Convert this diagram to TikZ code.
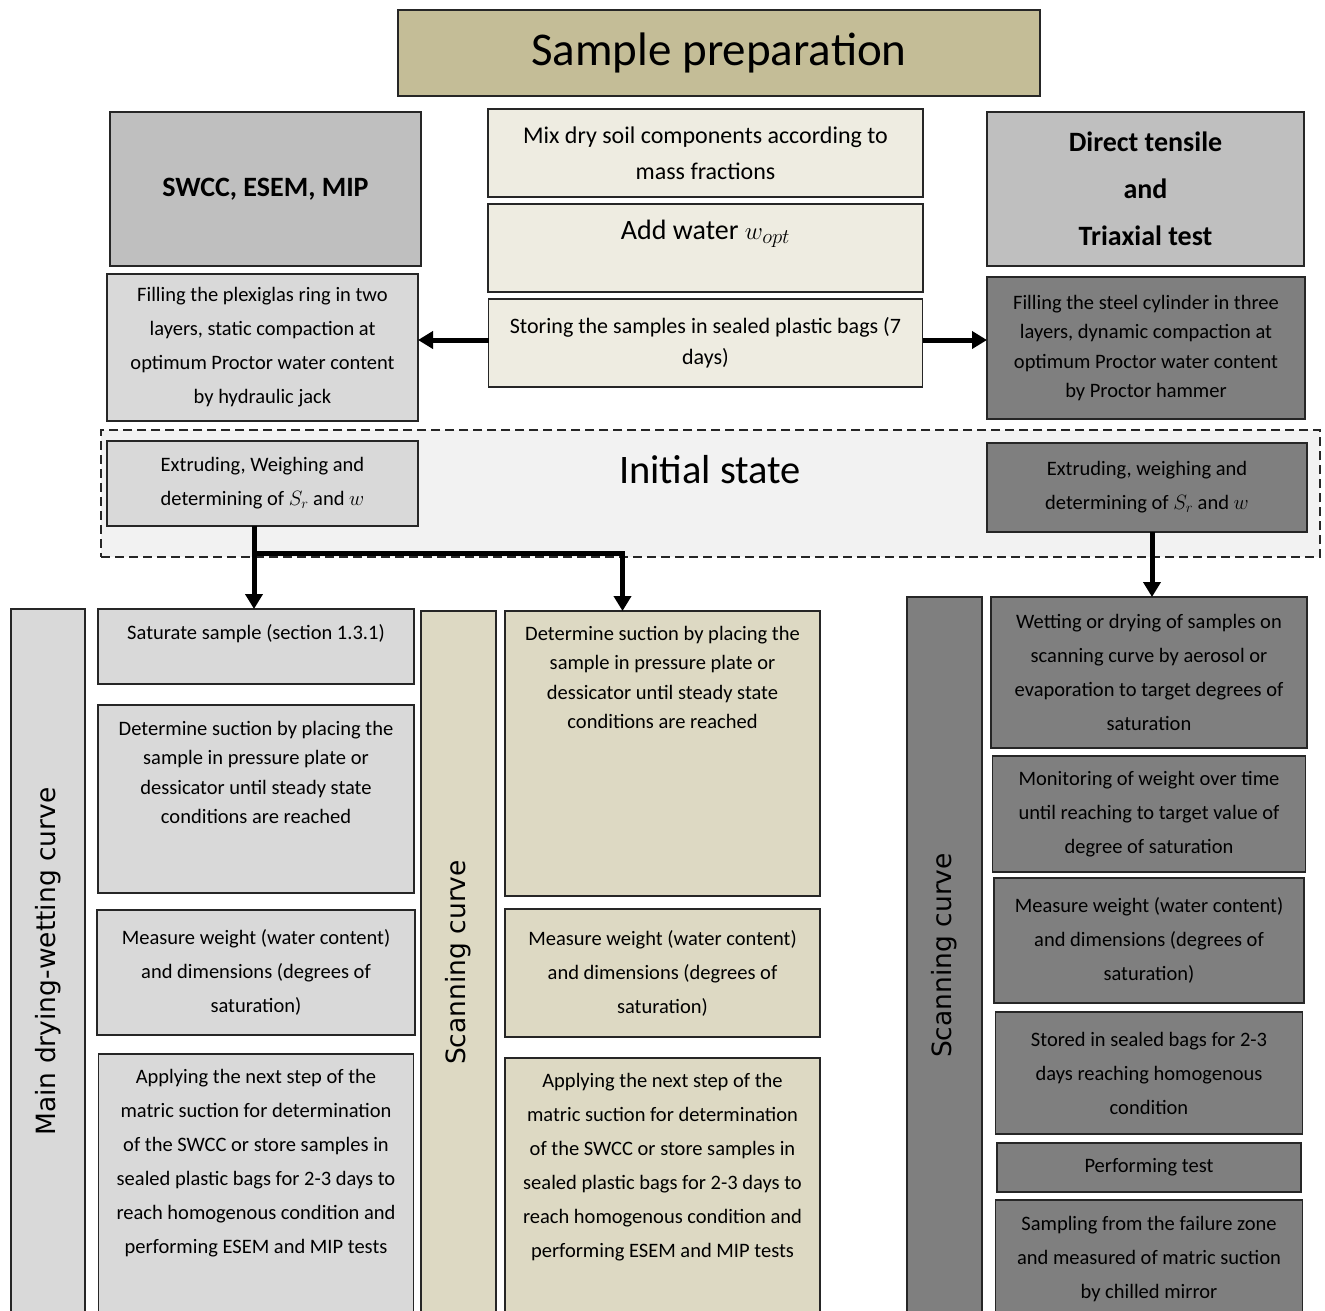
\documentclass[tikz,border=0pt]{standalone}
\usepackage{fontspec}
\setmainfont{Carlito}
\newfontfamily\sidefont{DejaVu Sans}
\usetikzlibrary{positioning,arrows.meta}

\definecolor{titletan}{HTML}{C4BD97}
\definecolor{headgrey}{HTML}{BFBFBF}
\definecolor{creamfill}{HTML}{EEECE1}
\definecolor{lgrey}{HTML}{D9D9D9}
\definecolor{dgrey}{HTML}{7F7F7F}
\definecolor{tanfill}{HTML}{DDD9C3}
\definecolor{zonefill}{HTML}{F2F2F2}
\definecolor{edge}{HTML}{262626}

\tikzset{
  stepbox/.style={draw=edge, line width=1.5pt, inner sep=2pt, outer sep=0pt, align=center,
    font=\fontsize{20.5}{34}\selectfont},
  tight/.style={font=\fontsize{20.5}{29.5}\selectfont},
  headbox/.style={stepbox, fill=headgrey, font=\bfseries\fontsize{28}{47}\selectfont},
  sidebox/.style={stepbox, rotate=90, font=\sidefont\fontsize{26.5}{32}\selectfont},
  toplbl/.style={anchor=north, inner sep=0pt, align=center,
    font=\fontsize{20.5}{34}\selectfont},
  arrow/.style={line width=5pt, -{Triangle[length=15pt,width=17pt]}},
}

\begin{document}
\begin{tikzpicture}[x=1pt, y=-1pt]
\useasboundingbox (0,0) rectangle (1325,1310);
\clip (0,0) rectangle (1325,1310);

% initial state zone
\node[draw=edge, line width=1.3pt, dash pattern=on 9pt off 5pt, fill=zonefill,
  minimum width=1219pt, minimum height=127pt] (zone) at (710.5,493.5) {};
\node[font=\fontsize{40.5}{44}\selectfont] (zonelbl) at (710,470) {Initial state};

% top row
\node[stepbox, fill=titletan, minimum width=642pt, minimum height=86pt,
  font=\fontsize{47}{50}\selectfont] (title) at (719,53) {Sample preparation};
\node[headbox, minimum width=311pt, minimum height=154pt] (swcc) at (265.5,189) {SWCC, ESEM, MIP};
\node[headbox, minimum width=317pt, minimum height=154pt] (dtt) at (1145.5,189)
  {Direct tensile\\and\\Triaxial test};

% preparation steps
\node[stepbox, fill=creamfill, minimum width=435pt, minimum height=88pt,
  font=\fontsize{24}{36}\selectfont] (mix) at (705.5,153)
  {Mix dry soil components according to\\mass fractions};
\node[stepbox, fill=creamfill, minimum width=435pt, minimum height=88pt, below=7pt of mix,
  label={[toplbl, yshift=-16pt, font=\fontsize{28}{34}\selectfont]north:Add water $w_{opt}$}] (water) {};
\node[stepbox, fill=creamfill, minimum width=434pt, minimum height=88pt, below=7pt of water,
  font=\fontsize{22}{31}\selectfont] (store)
  {Storing the samples in sealed plastic bags (7\\days)};

% compaction
\node[stepbox, fill=lgrey, minimum width=311pt, minimum height=147pt] (fillL) at (262.5,347.5)
  {Filling the plexiglas ring in two\\layers, static compaction at\\optimum Proctor water content\\by hydraulic jack};
\node[stepbox, tight, fill=dgrey, minimum width=318pt, minimum height=142pt] (fillR) at (1146,348)
  {Filling the steel cylinder in three\\layers, dynamic compaction at\\optimum Proctor water content\\by Proctor hammer};

\node[stepbox, fill=lgrey, minimum width=311pt, minimum height=85pt] (extrL) at (262.5,483.5)
  {Extruding, Weighing and\\determining of $S_r$ and $w$};
\node[stepbox, fill=dgrey, minimum width=320pt, minimum height=89pt] (extrR) at (1147,487.5)
  {Extruding, weighing and\\determining of $S_r$ and $w$};

% main drying-wetting curve
\node[sidebox, fill=lgrey, minimum width=705pt, minimum height=74pt] (sideL) at (48,961.5)
  {Main drying-wetting curve};
\node[stepbox, fill=lgrey, minimum width=316pt, minimum height=75pt] (sat) at (256,646.5) {};
\node[toplbl, yshift=-15pt] (satlbl) at (sat.north) {Saturate sample (section 1.3.1)};
\node[stepbox, fill=lgrey, minimum width=316pt, minimum height=188pt, below=21pt of sat] (detL) {};
\node[toplbl, tight, yshift=-16pt] (detLlbl) at (detL.north)
  {Determine suction by placing the\\sample in pressure plate or\\dessicator until steady state\\conditions are reached};
\node[stepbox, fill=lgrey, minimum width=318pt, minimum height=125pt, below=17pt of detL] (measL)
  {Measure weight (water content)\\and dimensions (degrees of\\saturation)};
\node[stepbox, fill=lgrey, minimum width=315pt, minimum height=280pt, below=19pt of measL] (applyL) {};
\node[toplbl, yshift=-15pt] (applyLlbl) at (applyL.north)
  {Applying the next step of the\\matric suction for determination\\of the SWCC or store samples in\\sealed plastic bags for 2-3 days to\\reach homogenous condition and\\performing ESEM and MIP tests};

% scanning curve (SWCC)
\node[sidebox, fill=tanfill, minimum width=703pt, minimum height=75pt] (sideM) at (458.5,962.5)
  {Scanning curve};
\node[stepbox, fill=tanfill, minimum width=315pt, minimum height=285pt] (detM) at (662.5,753.5) {};
\node[toplbl, tight, yshift=-15pt] (detMlbl) at (detM.north)
  {Determine suction by placing the\\sample in pressure plate or\\dessicator until steady state\\conditions are reached};
\node[stepbox, fill=tanfill, minimum width=315pt, minimum height=128pt, below=13pt of detM] (measM)
  {Measure weight (water content)\\and dimensions (degrees of\\saturation)};
\node[stepbox, fill=tanfill, minimum width=315pt, minimum height=280pt, below=21pt of measM] (applyM) {};
\node[toplbl, yshift=-15pt] (applyMlbl) at (applyM.north)
  {Applying the next step of the\\matric suction for determination\\of the SWCC or store samples in\\sealed plastic bags for 2-3 days to\\reach homogenous condition and\\performing ESEM and MIP tests};

% scanning curve (tensile / triaxial)
\node[sidebox, fill=dgrey, minimum width=717pt, minimum height=75pt] (sideR) at (944.5,955.5)
  {Scanning curve};
\node[stepbox, fill=dgrey, minimum width=316pt, minimum height=151pt] (wet) at (1149,672.5)
  {Wetting or drying of samples on\\scanning curve by aerosol or\\evaporation to target degrees of\\saturation};
\node[stepbox, fill=dgrey, minimum width=313pt, minimum height=116pt, below=8pt of wet] (mon)
  {Monitoring of weight over time\\until reaching to target value of\\degree of saturation};
\node[stepbox, fill=dgrey, minimum width=310pt, minimum height=125pt, below=6pt of mon] (measR)
  {Measure weight (water content)\\and dimensions (degrees of\\saturation)};
\node[stepbox, fill=dgrey, minimum width=307pt, minimum height=122pt, below=9pt of measR] (stor)
  {Stored in sealed bags for 2-3\\days reaching homogenous\\condition};
\node[stepbox, fill=dgrey, minimum width=304pt, minimum height=49pt, below=9pt of stor] (perf)
  {Performing test};
\node[stepbox, fill=dgrey, minimum width=307pt, minimum height=118pt, below=8pt of perf] (samp)
  {Sampling from the failure zone\\and measured of matric suction\\by chilled mirror};

% connectors
\coordinate (split) at (254,553);
\draw[arrow] ([yshift=3pt]store.west) -- ([yshift=3pt]store.west -| fillL.east);
\draw[arrow] ([yshift=3pt]store.east) -- ([yshift=3pt]store.east -| fillR.west);
\draw[arrow] (split |- extrL.south) -- (split |- sat.north);
\draw[arrow] (split) -| ([xshift=-40pt]detM.north);
\draw[arrow] ([xshift=5pt]extrR.south) -- ([xshift=5pt]extrR.south |- wet.north);
\end{tikzpicture}
\end{document}
